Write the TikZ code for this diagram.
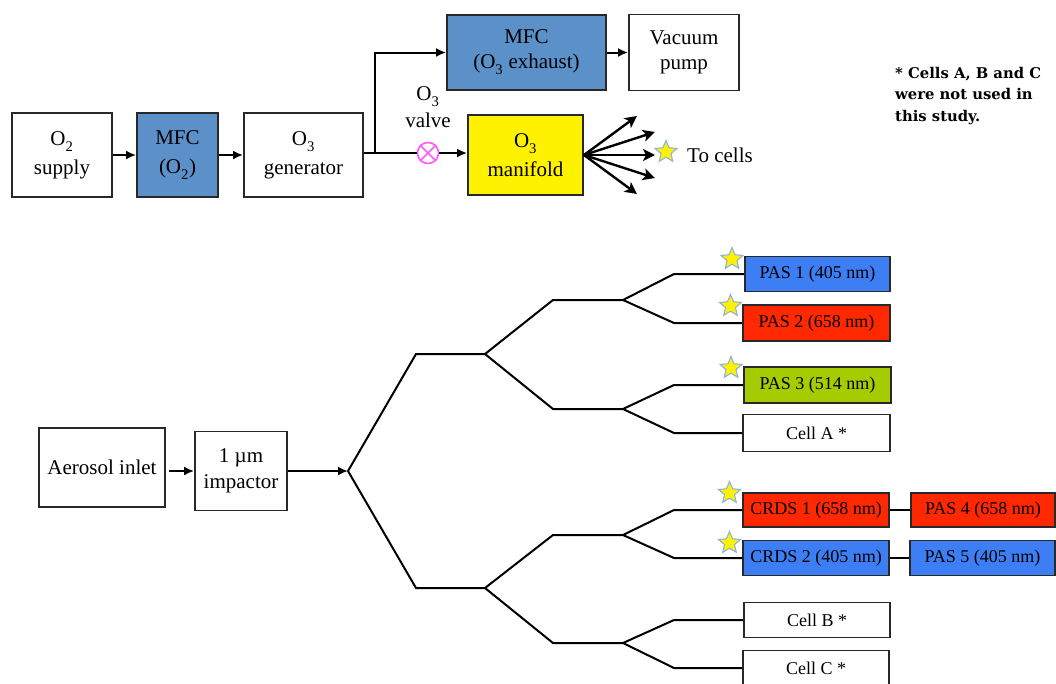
\documentclass[tikz,border=0pt]{standalone}
\usepackage{fontspec}
\setmainfont{Liberation Serif}
\newfontfamily\notefont{DejaVu Serif}
\usetikzlibrary{shapes.geometric,arrows.meta}
\definecolor{mfcblue}{RGB}{92,144,200}
\definecolor{pasblue}{RGB}{62,126,244}
\definecolor{pasred}{RGB}{255,40,0}
\definecolor{pasgreen}{RGB}{164,204,0}
\definecolor{valvecol}{RGB}{255,90,255}
\definecolor{staredge}{RGB}{140,178,224}
\definecolor{edgegray}{RGB}{40,40,40}
\newcommand{\sbs}[1]{\textsubscript{\raisebox{-0.2em}{#1}}}
\begin{document}
\begin{tikzpicture}[x=1pt,y=-1pt,
  box/.style={draw=edgegray,line width=1.8pt,inner sep=0pt,align=center,
    font=\fontsize{21}{29}\selectfont},
  cellbox/.style={draw=edgegray,line width=1.8pt,inner sep=0pt,
    minimum width=146pt,minimum height=35pt,font=\fontsize{18}{20}\selectfont},
  arr/.style={line width=2pt,-{Latex[length=10pt,width=9pt]}},
  fanarr/.style={line width=2.4pt,-{Stealth[length=12pt,width=12pt,inset=3pt]}},
  tree/.style={line width=2pt,line join=miter},
  cellstar/.style={star,star points=5,star point ratio=2.2,minimum size=23pt,
    inner sep=0pt,fill=yellow,draw=staredge,line width=1.1pt}]
\useasboundingbox (0,0) rectangle (1056,683);

% ---------- top row ----------
\node[box,minimum width=100pt,minimum height=84pt] (o2) at (62,155) {O\sbs{2}\\supply};
\node[box,fill=mfcblue,minimum width=81pt,minimum height=84pt] (mfco2) at (177.5,155) {MFC\\(O\sbs{2})};
\node[box,minimum width=119pt,minimum height=84pt] (gen) at (303.5,155) {O\sbs{3}\\generator};
\node[box,fill=mfcblue,minimum width=159pt,minimum height=75pt,font=\fontsize{21}{25}\selectfont] (mfcex) at (526.5,52.5) {MFC\\(O\sbs{3} exhaust)};
\node[box,minimum width=110pt,minimum height=76pt,font=\fontsize{21}{25}\selectfont] (vac) at (684,52.5) {Vacuum\\pump};
\node[box,fill=yellow,minimum width=115pt,minimum height=80pt] (man) at (525.5,155) {O\sbs{3}\\manifold};

\coordinate (split) at (375,153);
\node[circle,draw=valvecol,line width=1.6pt,minimum size=21pt,inner sep=0pt] (valve) at (428,153) {};
\draw[valvecol,line width=1.6pt] (valve.north west) -- (valve.south east)
  (valve.north east) -- (valve.south west);
\node[align=center,inner sep=0pt,font=\fontsize{21}{27}\selectfont] (valvelbl) at (428,107) {O\sbs{3}\\valve};

\draw[arr] (o2) -- (mfco2);
\draw[arr] (mfco2) -- (gen);
\draw[tree] (gen.east |- split) -- (split) -- (valve.west);
\draw[arr] (split) |- (mfcex.west);
\draw[arr] (valve.east) -- (man.west |- valve);
\draw[arr] (mfcex) -- (vac);

\coordinate (fan) at (584,155);
\coordinate (f1) at (637,116);
\coordinate (f2) at (655,132);
\coordinate (f3) at (655,155);
\coordinate (f4) at (655,178);
\coordinate (f5) at (637,194);
\foreach \f in {f1,f2,f3,f4,f5} \draw[fanarr] (fan) -- (\f);
\node[cellstar] (tostar) at (666,152) {};
\node[anchor=west,inner sep=0pt,font=\fontsize{21}{24}\selectfont] (tocells) at (687,155) {To cells};

\node[anchor=north west,align=left,inner sep=0pt,
  font=\notefont\bfseries\fontsize{14.8}{21.5}\selectfont] (note) at (895,67)
  {* Cells A, B and C\\were not used in\\this study.};

% ---------- bottom ----------
\node[box,minimum width=126pt,minimum height=79pt] (inlet) at (102,467.5) {Aerosol inlet};
\node[box,minimum width=92pt,minimum height=79pt,font=\fontsize{21}{26}\selectfont] (imp) at (241,471) {1 µm\\impactor};
\coordinate (root) at (348,471);
\draw[arr,shorten <=3pt] (inlet.east |- imp) -- (imp.west);
\draw[arr] (imp.east) -- (root);

\node[cellbox,fill=pasblue,minimum width=145pt] (pas1) at (817.5,274) {PAS 1 (405 nm)};
\node[cellbox,fill=pasred,minimum width=147pt,minimum height=36pt] (pas2) at (816.5,323) {PAS 2 (658 nm)};
\node[cellbox,fill=pasgreen,minimum width=147pt,minimum height=36pt] (pas3) at (817.5,385) {PAS 3 (514 nm)};
\node[cellbox,minimum width=147pt,minimum height=37pt] (cellA) at (816.5,433) {Cell A *};
\node[cellbox,fill=pasred,minimum height=34pt] (crds1) at (816,510) {CRDS 1 (658 nm)};
\node[cellbox,fill=pasred,minimum width=144pt,minimum height=34pt] (pas4) at (983,510) {PAS 4 (658 nm)};
\node[cellbox,fill=pasblue] (crds2) at (816,558) {CRDS 2 (405 nm)};
\node[cellbox,fill=pasblue,minimum width=145pt] (pas5) at (982.5,558) {PAS 5 (405 nm)};
\node[cellbox] (cellB) at (817,620) {Cell B *};
\node[cellbox] (cellC) at (816,668) {Cell C *};

\coordinate (a1) at (416,354); \coordinate (a2) at (485,354);
\coordinate (b1) at (416,588); \coordinate (b2) at (485,588);
\coordinate (c1) at (553,300); \coordinate (c2) at (623,300);
\coordinate (d1) at (553,409); \coordinate (d2) at (623,409);
\coordinate (e1) at (553,535); \coordinate (e2) at (623,535);
\coordinate (g1) at (553,643); \coordinate (g2) at (623,643);
\coordinate (l1) at (674,274); \coordinate (l2) at (674,323);
\coordinate (l3) at (674,385); \coordinate (l4) at (674,433);
\coordinate (l5) at (674,510); \coordinate (l6) at (674,558);
\coordinate (l7) at (674,620); \coordinate (l8) at (674,668);

\draw[tree] (a2) -- (a1) -- (root) -- (b1) -- (b2);
\draw[tree] (c2) -- (c1) -- (a2) -- (d1) -- (d2);
\draw[tree] (e2) -- (e1) -- (b2) -- (g1) -- (g2);
\draw[tree] (pas1.west) -- (l1) -- (c2) -- (l2) -- (pas2.west);
\draw[tree] (pas3.west) -- (l3) -- (d2) -- (l4) -- (cellA.west);
\draw[tree] (crds1.west) -- (l5) -- (e2) -- (l6) -- (crds2.west);
\draw[tree] (cellB.west) -- (l7) -- (g2) -- (l8) -- (cellC.west);
\draw[tree] (crds1) -- (pas4);
\draw[tree] (crds2) -- (pas5);

\node[cellstar] (s1) at (732,259) {};
\node[cellstar] (s2) at (730.5,306) {};
\node[cellstar] (s3) at (731,368) {};
\node[cellstar] (s4) at (729.5,493) {};
\node[cellstar] (s5) at (729.5,543) {};
\end{tikzpicture}
\end{document}
